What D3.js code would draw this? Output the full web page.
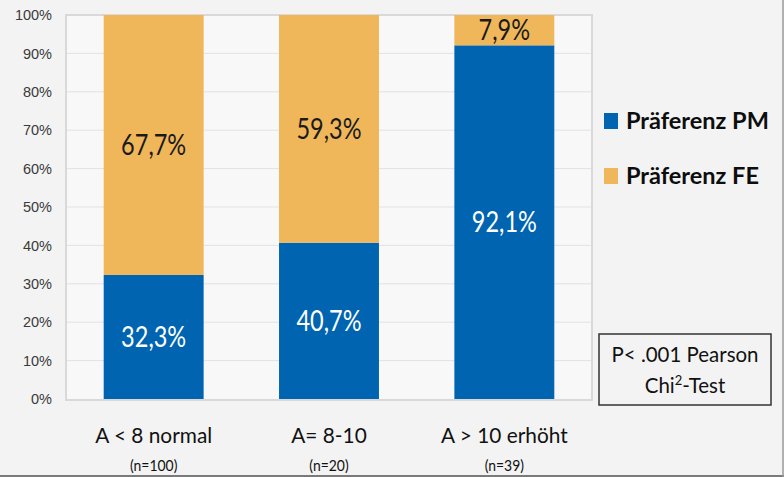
<!DOCTYPE html>
<html>
<head>
<meta charset="utf-8">
<script src="https://cdn.jsdelivr.net/npm/d3@7"></script>
<style>
  html, body { margin: 0; padding: 0; background: #f3f3f3; }
  svg { display: block; }
</style>
</head>
<body>
<svg id="chart" width="784" height="477"></svg>
<script>
// Groups, sample sizes and the share of each preference (percent)
const categories = ["A < 8 normal", "A= 8-10", "A > 10 erhöht"];
const sampleSizes = ["(n=100)", "(n=20)", "(n=39)"];
const prefPM = [32.3, 40.7, 92.1];
const prefFE = [67.7, 59.3, 7.9];
const seriesNames = ["Präferenz PM", "Präferenz FE"];
const yTicks = [0, 10, 20, 30, 40, 50, 60, 70, 80, 90, 100];

const colors = { PM: "#0064b1", FE: "#f0b65a" };
const W = 784, H = 477;
const plot = { left: 66, right: 592, top: 15, bottom: 400 };
const FONT = "Lato, Carlito, Calibri, sans-serif";

const svg = d3.select("#chart");
svg.append("rect").attr("width", W).attr("height", H).attr("fill", "#f3f3f3");

// Plot area
svg.append("rect")
  .attr("x", plot.left).attr("y", plot.top)
  .attr("width", plot.right - plot.left).attr("height", plot.bottom - plot.top)
  .attr("fill", "#f8f8f8").attr("stroke", "#d9d9d9").attr("stroke-width", 2);

const x = d3.scaleBand().domain(categories).range([plot.left, plot.right]).paddingInner(0.43).paddingOuter(0.215);
const y = d3.scaleLinear().domain([0, 100]).range([plot.bottom - 1, plot.top]);

// Gridlines
svg.append("g").selectAll("line").data(yTicks.filter(t => t > 0 && t < 100)).join("line")
  .attr("x1", plot.left + 1).attr("x2", plot.right - 1)
  .attr("y1", d => y(d)).attr("y2", d => y(d))
  .attr("stroke", "#e2e2e2").attr("stroke-width", 1);

// Y axis labels
const yAxis = d3.axisLeft(y).tickValues(yTicks).tickFormat(d => d + "%").tickSize(0).tickPadding(14);
const ya = svg.append("g").attr("transform", `translate(${plot.left},0)`).call(yAxis);
ya.select(".domain").remove();
ya.selectAll("text")
  .attr("font-family", "Liberation Sans, Arial, sans-serif")
  .attr("font-size", 14.5).attr("fill", "#3a3a3a");

// Horizontally condensed text placed at (cx, cy)
function label(g, cx, cy, txt, size, sx, opts = {}) {
  const t = g.append("text")
    .attr("transform", `translate(${cx},${cy}) scale(${sx},1)`)
    .attr("text-anchor", opts.anchor || "middle")
    .attr("font-family", FONT)
    .attr("font-size", size)
    .attr("font-weight", opts.weight || "normal")
    .attr("fill", opts.fill || "#111");
  if (opts.dy) t.attr("dy", opts.dy);
  if (txt !== null) t.text(txt);
  return t;
}

// Stacked bars
const rows = categories.map((c, i) => ({ cat: c, PM: prefPM[i], FE: prefFE[i] }));
const stack = d3.stack().keys(["PM", "FE"])(rows);

const layers = svg.append("g").selectAll("g").data(stack).join("g")
  .attr("fill", d => colors[d.key]);
layers.selectAll("rect").data(d => d).join("rect")
  .attr("x", d => x(d.data.cat))
  .attr("width", x.bandwidth())
  .attr("y", d => y(d[1]))
  .attr("height", d => y(d[0]) - y(d[1]));

// Segment value labels
const fmt = v => v.toFixed(1).replace(".", ",") + "%";
const vl = svg.append("g");
stack.forEach(layer => {
  layer.forEach(d => {
    label(vl, x(d.data.cat) + x.bandwidth() / 2, (y(d[0]) + y(d[1])) / 2,
      fmt(d.data[layer.key]), 28, 0.84,
      { dy: "0.36em", fill: layer.key === "PM" ? "#ffffff" : "#1a1a1a" });
  });
});

// Category labels and sample sizes
const xl = svg.append("g");
categories.forEach((c, i) => {
  const cx = x(c) + x.bandwidth() / 2;
  label(xl, cx, 443, c, 21.5, 0.97);
  label(xl, cx, 471, sampleSizes[i], 15, 0.93);
});

// Legend
const legend = svg.append("g");
const legendY = [121, 176];
seriesNames.forEach((name, i) => {
  legend.append("rect")
    .attr("x", 604).attr("y", legendY[i] - 8).attr("width", 14).attr("height", 16)
    .attr("fill", i === 0 ? colors.PM : colors.FE);
  label(legend, 626, legendY[i], name, 23.5, 1.0,
    { anchor: "start", weight: "bold", dy: "0.36em", fill: "#0d0d0d" });
});

// Test annotation box
const box = svg.append("g");
box.append("rect").attr("x", 599).attr("y", 334).attr("width", 172).attr("height", 71)
  .attr("fill", "#f3f3f3").attr("stroke", "#333").attr("stroke-width", 1.5);
label(box, 685, 362, "P< .001 Pearson", 22, 0.93);
const t2 = label(box, 685, 393, null, 22, 0.93);
t2.append("tspan").text("Chi");
t2.append("tspan").attr("font-size", 14).attr("dy", -8).text("2");
t2.append("tspan").attr("dy", 8).text("-Test");

// Outer frame edges
svg.append("line").attr("x1", 0).attr("x2", W).attr("y1", H - 1).attr("y2", H - 1).attr("stroke", "#7a7a7a").attr("stroke-width", 2);
svg.append("line").attr("x1", W - 1).attr("x2", W - 1).attr("y1", 0).attr("y2", H).attr("stroke", "#9a9a9a").attr("stroke-width", 1.5);
</script>
</body>
</html>
